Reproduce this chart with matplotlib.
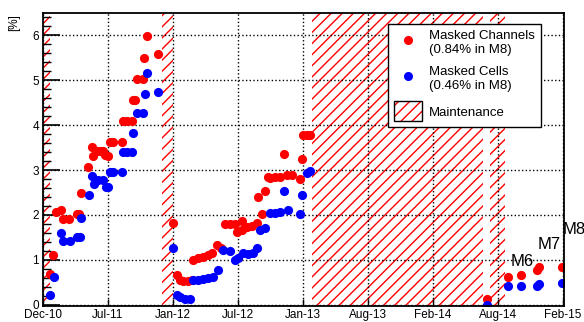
import numpy as np
import matplotlib
matplotlib.use('Agg')
import matplotlib.pyplot as plt
import matplotlib.dates as mdates
from matplotlib.lines import Line2D
from matplotlib.patches import Patch
from matplotlib.ticker import MultipleLocator

plt.rcParams['font.family'] = ['Liberation Sans', 'DejaVu Sans']
plt.rcParams['hatch.linewidth'] = 1.0

# time axis: days since T0
T0 = np.datetime64('2010-12-25')
TICK_STEP = 190  # days between axis labels
X_END = 1523

# masked channels [%]
ch_days = [20, 29, 38, 53, 58, 76, 99, 105, 111, 132, 143, 146, 158, 167, 175, 181,
           190, 196, 205, 231, 234, 246, 260, 263, 269, 275, 292, 295, 304, 336,
           380, 392, 400, 409, 424, 436, 438, 453, 468, 482, 494, 509, 520, 532,
           547, 561, 582, 567, 582, 596, 611, 626, 628, 640, 649, 658, 664, 678,
           693, 704, 713, 728, 751, 757, 760, 772, 780,
           1298, 1359, 1397, 1444, 1450, 1517]
ch_vals = [0.69, 1.11, 2.07, 2.12, 1.92, 1.92, 2.03, 2.03, 2.49, 3.07, 3.52, 3.32,
           3.43, 3.43, 3.43, 3.34, 3.32, 3.63, 3.63, 3.63, 4.10, 4.10, 4.10, 4.57,
           4.57, 5.03, 5.03, 5.50, 5.99, 5.59,
           1.83, 0.65, 0.55, 0.52, 0.52, 0.55, 1.00, 1.04, 1.07, 1.11, 1.16, 1.34,
           1.27, 1.80, 1.80, 1.80, 1.87, 1.63, 1.67, 1.72, 1.76, 1.83, 2.40, 2.03,
           2.54, 2.85, 2.83, 2.85, 2.85, 3.36, 2.90, 2.90, 2.80, 3.25, 3.79, 3.79,
           3.79,
           0.13, 0.62, 0.67, 0.78, 0.85, 0.85]

# masked cells [%]
ce_days = [20, 32, 53, 58, 79, 99, 108, 111, 134, 143, 149, 161, 175, 184, 190, 196,
           205, 231, 234, 246, 260, 263, 275, 292, 298, 304, 336,
           380, 392, 400, 415, 430, 438, 453, 468, 482, 497, 512, 526, 547, 561,
           570, 585, 599, 614, 627, 634, 649, 664, 678, 693, 704, 716, 751, 757,
           772, 780,
           1298, 1359, 1397, 1444, 1450, 1517]
ce_vals = [0.22, 0.62, 1.60, 1.41, 1.41, 1.51, 1.51, 1.93, 2.45, 2.87, 2.69, 2.78,
           2.78, 2.63, 2.63, 2.96, 2.96, 2.96, 3.41, 3.41, 3.41, 3.83, 4.28, 4.28,
           4.70, 5.17, 4.74,
           1.27, 0.22, 0.16, 0.13, 0.13, 0.56, 0.56, 0.58, 0.60, 0.62, 0.78, 1.22,
           1.20, 1.00, 1.05, 1.16, 1.12, 1.16, 1.27, 1.67, 1.71, 2.05, 2.05, 2.07,
           2.54, 2.12, 2.03, 2.45, 2.94, 2.98,
           0.00, 0.42, 0.42, 0.42, 0.46, 0.49]

# maintenance periods (start, end) in days
maint = [(0, 20), (348, 380), (786, 1286), (1307, 1350)]

# module labels
mod_names = ['M6', 'M7', 'M8']
mod_days = [1400, 1479, 1552]
mod_vals = [0.96, 1.34, 1.67]


def to_date(d):
    return T0 + np.array(d, dtype='timedelta64[D]')


fig = plt.figure(figsize=(5.84, 3.22), dpi=100)
ax = fig.add_axes([0.0736, 0.0497, 0.8921, 0.9099])

for a, b in maint:
    ax.axvspan(to_date(a), to_date(b), facecolor='none', edgecolor='red',
               hatch='///', linewidth=0, zorder=1)

ax.plot(to_date(ch_days), ch_vals, 'o', color='red', markersize=6.6,
        markeredgewidth=0, zorder=3)
ax.plot(to_date(ce_days), ce_vals, 'o', color='blue', markersize=6.6,
        markeredgewidth=0, zorder=3)

for n, d, v in zip(mod_names, mod_days, mod_vals):
    ax.text(to_date(d), v, n, fontsize=12, ha='center', va='center', clip_on=False)

ax.set_xlim(to_date(0), to_date(X_END))
ax.set_ylim(-0.03, 6.5)

ticks = [to_date(k * TICK_STEP) for k in range(9)]
ax.set_xticks(mdates.date2num(ticks))
ax.xaxis.set_major_formatter(mdates.DateFormatter('%b-%y'))
ax.yaxis.set_major_locator(MultipleLocator(1))
ax.yaxis.set_minor_locator(MultipleLocator(0.2))
ax.tick_params(axis='y', which='major', direction='in', length=12, width=1.2, labelsize=8.5, pad=3)
ax.tick_params(axis='y', which='minor', direction='in', length=6, width=1)
ax.tick_params(axis='x', which='major', direction='in', length=5, width=1, labelsize=8.5, pad=2)

ax.grid(True, which='major', color='black', linestyle=':', linewidth=1)
for s in ax.spines.values():
    s.set_linewidth(1.3)
    s.set_zorder(4)

fig.text(0.024, 0.955, '[%]', rotation=90, ha='center', va='top', fontsize=8.5)

handles = [
    Line2D([], [], marker='o', color='red', linestyle='none', markersize=5.5),
    Line2D([], [], marker='o', color='blue', linestyle='none', markersize=5.5),
    (Patch(facecolor='white', edgecolor='red', hatch='///', linewidth=0),
     Patch(facecolor='none', edgecolor='black', linewidth=1)),
]
labels = ['Masked Channels\n(0.84% in M8)', 'Masked Cells\n(0.46% in M8)', 'Maintenance']
leg = ax.legend(handles, labels, loc='upper left', bbox_to_anchor=(0.662, 0.962),
                fontsize=9.5, fancybox=False, framealpha=1, edgecolor='black',
                handlelength=2.1, handleheight=1.95, handletextpad=0.55,
                labelspacing=0.75, borderpad=0.45, borderaxespad=0)
leg.get_frame().set_linewidth(1)
leg.set_zorder(5)

fig.savefig('out.png', dpi=100)
